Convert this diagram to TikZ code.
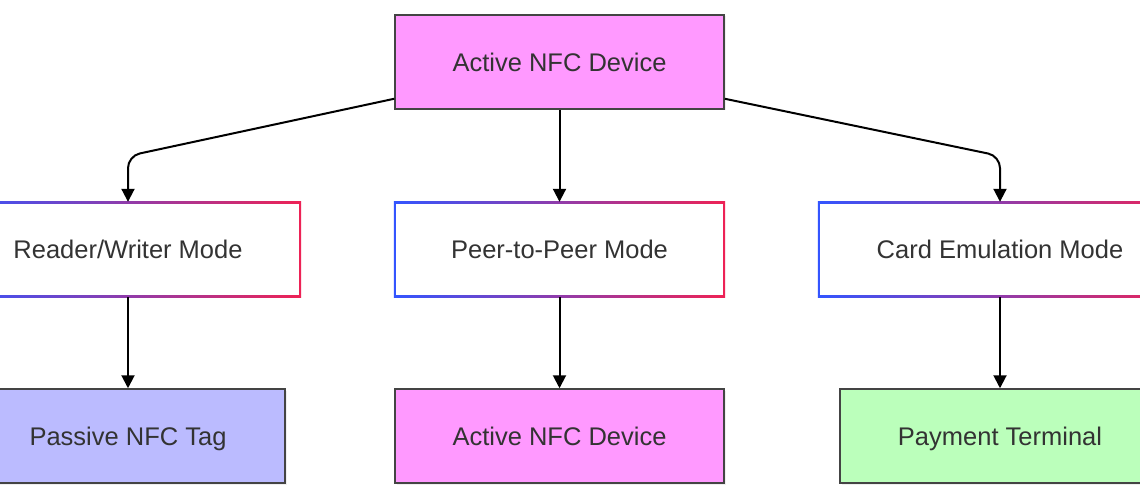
\documentclass[tikz,border=0pt]{standalone}
\usepackage{fontspec}
\setmainfont{Liberation Sans}
\usetikzlibrary{arrows.meta,backgrounds,shadows}
\definecolor{txt}{HTML}{333333}
\definecolor{edgec}{HTML}{444444}
\definecolor{magentaf}{HTML}{FF99FF}
\definecolor{lavf}{HTML}{BBBBFF}
\definecolor{greenf}{HTML}{BBFFBB}
\definecolor{gblue}{HTML}{3355FF}
\definecolor{gred}{HTML}{EE2255}
\tikzset{
  base/.style={rectangle, inner sep=0pt, text=txt,
    font=\fontsize{25.5}{30}\selectfont, text height=18.3pt, text depth=0pt},
  filled/.style={base, draw=edgec, line width=1.5pt,
    drop shadow={opacity=0.12, shadow xshift=1.5pt, shadow yshift=-1.5pt}},
  gradbox/.style={base},
  conn/.style={draw=black, line width=2pt, rounded corners=12pt,
    -{Triangle[length=13pt,width=13pt]}}
}
\newcommand{\gradborder}[1]{%
  \shade[left color=gblue, right color=gred]
    (#1.south west) rectangle (#1.north east);
  \fill[white] ([shift={(2pt,2pt)}]#1.south west) rectangle ([shift={(-2pt,-2pt)}]#1.north east);
}
\begin{document}
\begin{tikzpicture}[x=1pt,y=-1pt]
\useasboundingbox (0,0) rectangle (1140,500);

\node[filled, fill=magentaf, minimum width=329pt, minimum height=94pt] (top) at (559.5,62) {Active NFC Device};

\node[gradbox, minimum width=346pt, minimum height=95pt] (rw) at (128,249.5) {Reader/Writer Mode};
\node[gradbox, minimum width=331pt, minimum height=95pt] (p2p) at (559.5,249.5) {Peer-to-Peer Mode};
\node[gradbox, minimum width=364pt, minimum height=95pt] (ce) at (1000,249.5) {Card Emulation Mode};

\begin{scope}[on background layer]
  \fill[white] (0,0) rectangle (1140,500);
  \gradborder{rw}
  \gradborder{p2p}
  \gradborder{ce}
\end{scope}

\node[filled, fill=lavf, minimum width=314pt, minimum height=94pt] (tag) at (128,436) {Passive NFC Tag};
\node[filled, fill=magentaf, minimum width=329pt, minimum height=94pt] (act) at (559.5,436) {Active NFC Device};
\node[filled, fill=greenf, minimum width=320pt, minimum height=94pt] (pay) at (1000,436) {Payment Terminal};

\coordinate (cl) at (128,156);
\coordinate (cr) at (1000,156);

\draw[conn] ([yshift=11pt]top.south west) -- (cl) -- (rw.north);
\draw[conn] (top.south) -- (p2p.north);
\draw[conn] ([yshift=11pt]top.south east) -- (cr) -- (ce.north);

\draw[conn] (rw.south) -- (tag.north);
\draw[conn] (p2p.south) -- (act.north);
\draw[conn] (ce.south) -- (pay.north);
\end{tikzpicture}
\end{document}
